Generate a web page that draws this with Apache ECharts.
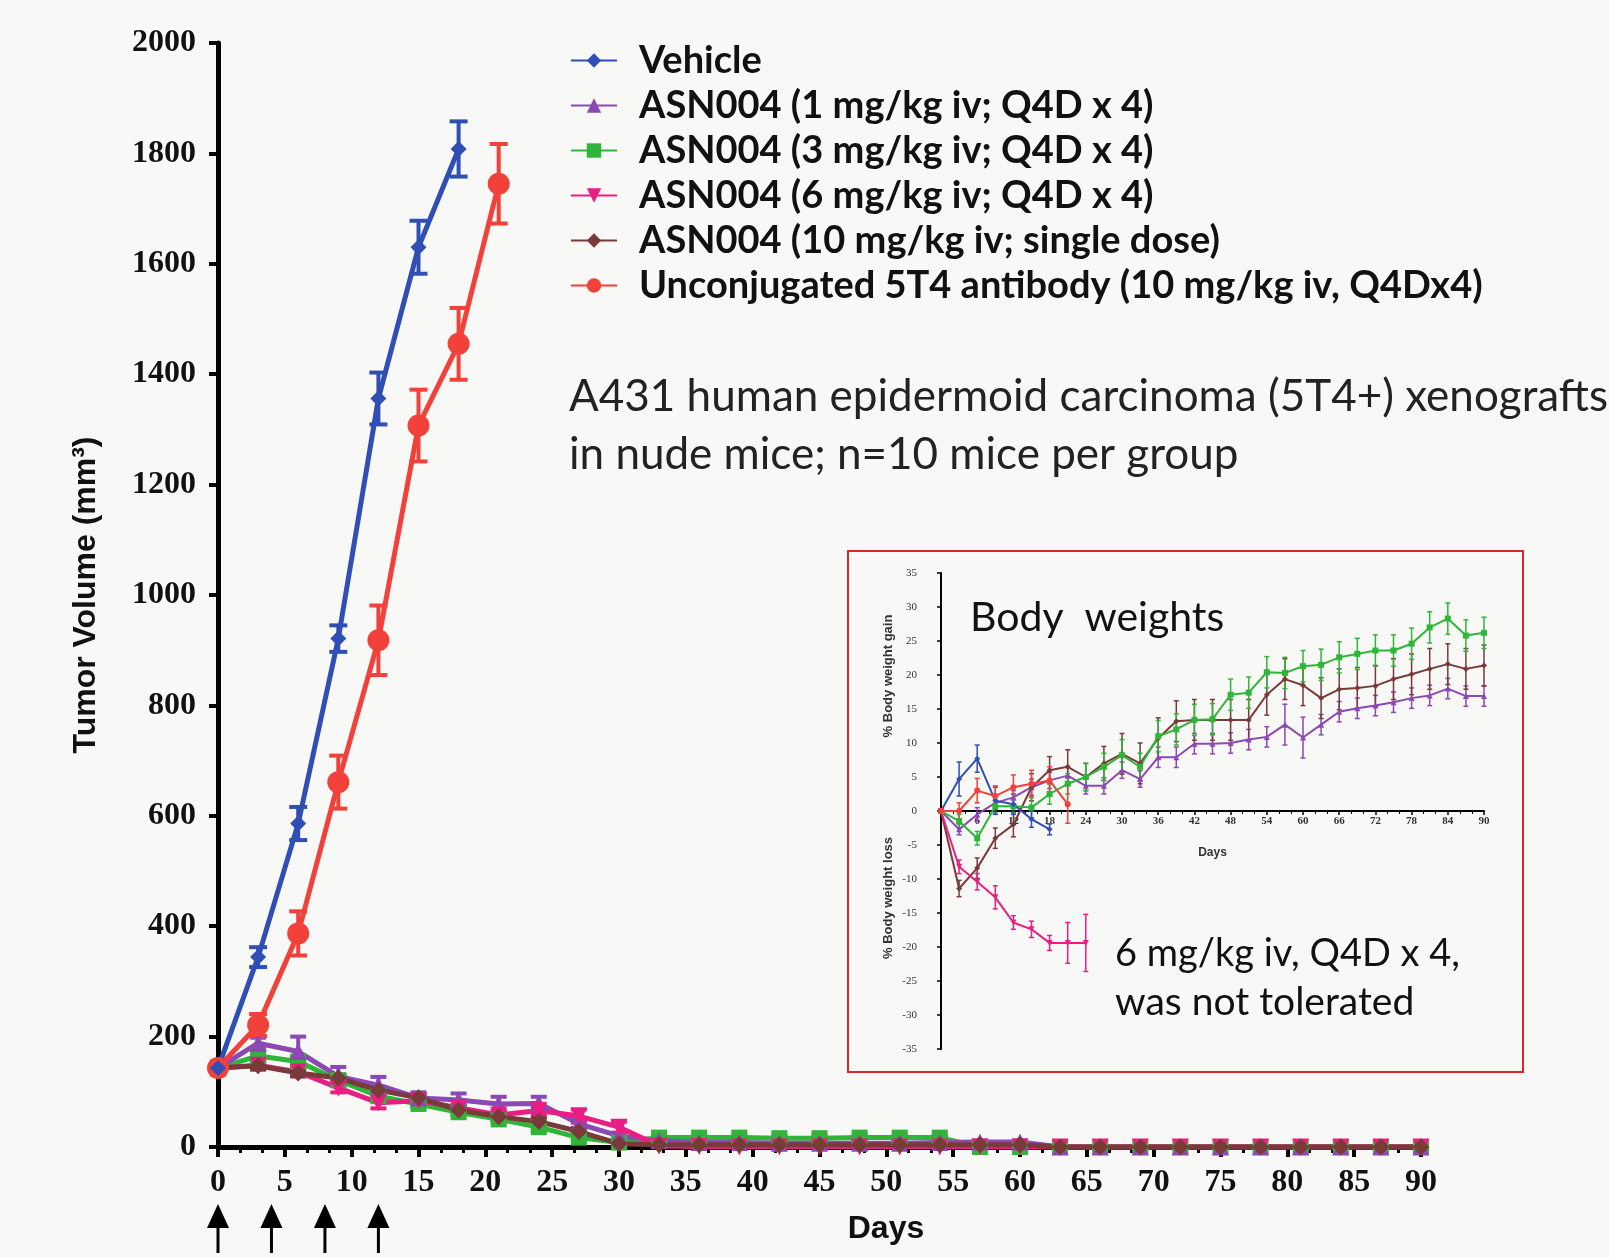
<!DOCTYPE html>
<html><head><meta charset="utf-8">
<script src="https://cdn.jsdelivr.net/npm/echarts@6/dist/echarts.min.js"></script>
<style>html,body{margin:0;padding:0;background:#f8f8f6;}#c{width:1609px;height:1257px;}</style>
</head><body><div id="c"></div>
<script>
// ---------- Data: tumor volume (mm3) ----------
const days = [0,3,6,9,12,15,18,21,24,27,30,33,36,39,42,45,48,51,54,57,60,63,66,69,72,75,78,81,84,87,90];
const doseDays = [0,4,8,12];
const xTicks = [0,5,10,15,20,25,30,35,40,45,50,55,60,65,70,75,80,85,90];
const yTicks = [0,200,400,600,800,1000,1200,1400,1600,1800,2000];

const vehicleTV    = [143,344,586,921,1356,1630,1808];
const vehicleTVErr = [0,18,30,24,47,48,50];
const unconjTV     = [143,221,387,661,918,1307,1455,1745];
const unconjTVErr  = [0,20,40,48,63,65,65,72];
const asn1TV    = [143,188,173,128,112,89,85,78,79,42,20,12,8,8,7,7,7,7,8,9,9,0,0,0,0,0,0,0,0,0,0];
const asn1TVErr = [0,10,27,17,15,10,12,13,12,8,5,4,2,2,2,2,2,2,2,3,3,0,0,0,0,0,0,0,0,0,0];
const asn3TV    = [143,165,155,121,92,78,63,50,36,17,8,17,17,17,16,16,17,17,17,0,0,0,0,0,0,0,0,0,0,0,0];
const asn3TVErr = [0,10,8,8,8,6,6,6,6,6,5,4,4,4,4,4,4,4,4,2,0,0,0,0,0,0,0,0,0,0,0];
const asn6TV    = [143,148,136,107,80,84,71,58,66,56,36,2,1,0,0,0,0,0,0,0,0,0,0,0,0,0,0,0,0,0,0];
const asn6TVErr = [0,8,8,8,10,6,6,8,8,12,10,2,0,0,0,0,0,0,0,0,0,0,0,0,0,0,0,0,0,0,0];
const asn10TV    = [143,147,134,125,103,89,67,55,46,28,6,4,4,4,4,4,4,4,4,4,4,0,0,0,0,0,0,0,0,0,0];
const asn10TVErr = [0,6,6,6,6,6,6,6,6,6,4,2,1,1,1,1,1,1,1,1,1,0,0,0,0,0,0,0,0,0,0];

// ---------- Data: body weight change (%) ----------
const bwVehicle    = [0,4.7,7.7,1.5,1,-1.2,-2.7];
const bwVehicleErr = [0,2.5,2,2,1.5,1.2,0.8];
const bwUnconj     = [0,0,3,2.2,3.5,4,4.5,1];
const bwUnconjErr  = [0,1.2,1.8,1.5,1.8,2,2,2.8];
const bwAsn1    = [0,-2.7,-0.5,1.2,2,3.5,4.5,5.2,3.7,3.7,6,4.7,7.9,7.9,9.9,9.9,10,10.5,10.9,12.7,10.8,12.7,14.6,15.1,15.5,16,16.6,17,18,16.9,16.9];
const bwAsn1Err = [0,0.8,1,1,1,1.2,1.2,1.2,1.2,1.2,1.2,1.2,1.5,1.5,1.5,1.5,1.5,1.5,1.5,3,3,1.5,1.5,1.5,1.5,1.5,1.5,1.5,1.5,1.5,1.5];
const bwAsn3    = [0,-1.5,-4,0.7,0.7,0.5,2.5,4,5,6.5,8.2,6.5,11,12,13.4,13.5,17.1,17.4,20.4,20.3,21.3,21.5,22.6,23.1,23.6,23.6,24.6,27,28.3,25.8,26.2];
const bwAsn3Err = [0,1,1,1,1,1.5,1.5,1.5,2,2,2.3,2,2.3,2.3,2.3,2.3,2.3,2.3,2.3,2.3,2.3,2.3,2.3,2.3,2.3,2.3,2.3,2.3,2.3,2.3,2.3];
const bwAsn6    = [0,-8.2,-10.4,-12.7,-16.4,-17.4,-19.4,-19.4,-19.4];
const bwAsn6Err = [0,1,1.2,1.7,1,1.2,1.1,3,4.2];
const bwAsn10    = [0,-11.4,-8.4,-4,-2,3.5,6,6.5,5,7,8.4,7,10.7,13.2,13.4,13.4,13.4,13.4,17.1,19.4,18.5,16.6,17.9,18.1,18.4,19.4,20.1,20.9,21.6,20.9,21.4];
const bwAsn10Err = [0,1.2,1.5,1.5,1.8,2,2,2.5,2,2.5,3,3,3,3,3,3,3,3,3,3,3,3,3,3,3,3,3,3,3,3,3];

const names = ['Vehicle','ASN004 (1 mg/kg iv; Q4D x 4)','ASN004 (3 mg/kg iv; Q4D x 4)','ASN004 (6 mg/kg iv; Q4D x 4)','ASN004 (10 mg/kg iv; single dose)','Unconjugated 5T4 antibody (10 mg/kg iv, Q4Dx4)'];
const colors = {blue:'#2f4fb5', purple:'#8c48b4', green:'#2fb53a', pink:'#ea1e82', brown:'#7a3a3a', red:'#f2413a'};

function pairs(vals){ return vals.map((v,i)=>[days[i], v]); }
function triples(vals, errs){ return vals.map((v,i)=>[days[i], v, errs[i]]); }

function lineSeries(name, vals, color, symbol, size, rot, gi, lw){
  return {type:'line', name:name, xAxisIndex:gi, yAxisIndex:gi, data:pairs(vals),
    symbol:symbol, symbolSize:size, symbolRotate:rot||0, showSymbol:true,
    lineStyle:{color:color, width:lw}, itemStyle:{color:color, borderWidth:0},
    emphasis:{disabled:true}, silent:true, z:3};
}
function errSeries(vals, errs, color, gi, capW, lw, clampZero){
  return {type:'custom', name:'err', xAxisIndex:gi, yAxisIndex:gi, data:triples(vals, errs),
    silent:true, z:3, encode:{x:0, y:1},
    renderItem:function(p, api){
      const x = api.value(0), v = api.value(1), e = api.value(2);
      if (!e) return {type:'group', children:[]};
      let lo = v - e; if (clampZero && lo < 0) lo = 0;
      const t = api.coord([x, v + e]); const b = api.coord([x, lo]);
      const st = {stroke:color, lineWidth:lw};
      const ch = [
        {type:'line', shape:{x1:t[0], y1:t[1], x2:b[0], y2:b[1]}, style:st},
        {type:'line', shape:{x1:t[0]-capW/2, y1:t[1], x2:t[0]+capW/2, y2:t[1]}, style:st}
      ];
      if (!(clampZero && lo === 0)) ch.push({type:'line', shape:{x1:b[0]-capW/2, y1:b[1], x2:b[0]+capW/2, y2:b[1]}, style:st});
      return {type:'group', children:ch};
    }};
}

const series = [
  // main chart (grid 0)
  errSeries(asn3TV, asn3TVErr, colors.green, 0, 16, 4, true),
  lineSeries(names[2], asn3TV, colors.green, 'rect', 16, 0, 0, 5),
  errSeries(asn1TV, asn1TVErr, colors.purple, 0, 16, 4, true),
  lineSeries(names[1], asn1TV, colors.purple, 'triangle', 17, 0, 0, 5),
  errSeries(asn6TV, asn6TVErr, colors.pink, 0, 16, 4, true),
  lineSeries(names[3], asn6TV, colors.pink, 'triangle', 17, 180, 0, 5),
  errSeries(asn10TV, asn10TVErr, colors.brown, 0, 16, 4, true),
  lineSeries(names[4], asn10TV, colors.brown, 'diamond', 17, 0, 0, 5),
  errSeries(unconjTV, unconjTVErr, colors.red, 0, 18, 4, true),
  lineSeries(names[5], unconjTV, colors.red, 'circle', 22, 0, 0, 5),
  errSeries(vehicleTV, vehicleTVErr, colors.blue, 0, 18, 4, true),
  lineSeries(names[0], vehicleTV, colors.blue, 'diamond', 16, 0, 0, 5),
  // dosing arrows
  {type:'custom', name:'dose', xAxisIndex:0, yAxisIndex:0, clip:false, silent:true,
    data: doseDays.map(d=>[d, 0]), encode:{x:0, y:1},
    renderItem:function(p, api){
      const c = api.coord([api.value(0), 0]);
      return {type:'group', children:[
        {type:'polygon', shape:{points:[[c[0], c[1]+57],[c[0]-11, c[1]+81],[c[0]+11, c[1]+81]]}, style:{fill:'#000'}},
        {type:'rect', shape:{x:c[0]-1.5, y:c[1]+78, width:3, height:28}, style:{fill:'#000'}}
      ]};
    }},
  // inset (grid 1)
  errSeries(bwAsn1, bwAsn1Err, colors.purple, 1, 5, 1.5, false),
  lineSeries('bw1', bwAsn1, colors.purple, 'triangle', 6, 0, 1, 2),
  errSeries(bwAsn10, bwAsn10Err, colors.brown, 1, 5, 1.5, false),
  lineSeries('bw10', bwAsn10, colors.brown, 'diamond', 6, 0, 1, 2),
  errSeries(bwAsn3, bwAsn3Err, colors.green, 1, 5, 1.5, false),
  lineSeries('bw3', bwAsn3, colors.green, 'rect', 6, 0, 1, 2),
  errSeries(bwAsn6, bwAsn6Err, colors.pink, 1, 5, 1.5, false),
  lineSeries('bw6', bwAsn6, colors.pink, 'triangle', 6, 180, 1, 2),
  errSeries(bwVehicle, bwVehicleErr, colors.blue, 1, 5, 1.5, false),
  lineSeries('bwV', bwVehicle, colors.blue, 'diamond', 6, 0, 1, 2),
  errSeries(bwUnconj, bwUnconjErr, colors.red, 1, 5, 1.5, false),
  lineSeries('bwU', bwUnconj, colors.red, 'circle', 6, 0, 1, 2)
];

const serifLbl = {fontFamily:'Liberation Serif', fontWeight:'bold', fontSize:32, color:'#111'};
const option = {
  backgroundColor:'#f8f8f6',
  animation:false,
  grid:[
    {left:218, top:43, right:188, bottom:110, outerBoundsMode:'none', containLabel:false},
    {left:941, top:573, right:125, bottom:208, outerBoundsMode:'none', containLabel:false}
  ],
  legend:{
    orient:'vertical', left:565, top:36, itemWidth:46, itemHeight:18, itemGap:6,
    data:names, selectedMode:false,
    textStyle:{fontFamily:'Lato', fontWeight:'bold', fontSize:38, color:'#111', lineHeight:39, padding:[0,0,0,17]}
  },
  xAxis:[
    {gridIndex:0, type:'value', min:0, max:90, interval:5,
      axisLine:{show:true, lineStyle:{color:'#000', width:5}},
      axisTick:{show:true, length:10, lineStyle:{color:'#000', width:4}},
      minorTick:{show:true, splitNumber:3, length:6, lineStyle:{color:'#000', width:3}},
      splitLine:{show:false}, minorSplitLine:{show:false},
      axisLabel:Object.assign({margin:20, formatter:function(v){return xTicks.indexOf(v)>=0? String(v):'';}}, serifLbl),
      name:'Days', nameLocation:'middle', nameGap:66, nameMoveOverlap:false,
      nameTextStyle:{fontFamily:'Liberation Sans', fontWeight:'bold', fontSize:32, color:'#111', padding:[0,0,0,133]}},
    {gridIndex:1, type:'value', min:0, max:90, interval:6, offset:-238,
      axisLine:{show:true, onZero:false, lineStyle:{color:'#000', width:2}},
      axisTick:{show:true, length:4, lineStyle:{color:'#000', width:1.5}},
      minorTick:{show:true, splitNumber:3, length:3, lineStyle:{color:'#000', width:1}},
      splitLine:{show:false},
      axisLabel:{showMinLabel:false, margin:5, fontFamily:'Liberation Serif', fontWeight:'bold', fontSize:11, color:'#333'},
      name:'Days', nameLocation:'middle', nameGap:36, nameMoveOverlap:false,
      nameTextStyle:{fontFamily:'Liberation Sans', fontWeight:'bold', fontSize:12, color:'#333'}}
  ],
  yAxis:[
    {gridIndex:0, type:'value', min:0, max:2000, interval:200,
      axisLine:{show:true, lineStyle:{color:'#000', width:5}},
      axisTick:{show:true, length:9, lineStyle:{color:'#000', width:4}},
      splitLine:{show:false},
      axisLabel:Object.assign({margin:22, formatter:function(v){return yTicks.indexOf(v)>=0? String(v):'';}}, serifLbl),
      name:'Tumor Volume (mm³)', nameLocation:'middle', nameRotate:90, nameGap:116, nameMoveOverlap:false,
      nameTextStyle:{fontFamily:'Liberation Sans', fontWeight:'bold', fontSize:32, color:'#111'}},
    {gridIndex:1, type:'value', min:-35, max:35, interval:5,
      axisLine:{show:true, lineStyle:{color:'#000', width:2}},
      axisTick:{show:true, length:4, lineStyle:{color:'#000', width:1.5}},
      splitLine:{show:false},
      axisLabel:{margin:24, fontFamily:'Liberation Serif', fontSize:11, color:'#333'}}
  ],
  graphic:[
    {type:'rect', shape:{x:848, y:551, width:675, height:521}, style:{fill:'none', stroke:'#d9262b', lineWidth:2}, silent:true},
    {type:'text', x:569, y:397, style:{text:'A431 human epidermoid carcinoma (5T4+) xenografts', font:'44px Lato', fill:'#222', verticalAlign:'middle'}},
    {type:'text', x:569, y:455, style:{text:'in nude mice; n=10 mice per group', font:'44px Lato', fill:'#222', verticalAlign:'middle'}},
    {type:'text', x:970, y:618, style:{text:'Body  weights', font:'41px Lato', fill:'#111', verticalAlign:'middle'}},
    {type:'text', x:1115, y:954, style:{text:'6 mg/kg iv, Q4D x 4,', font:'38px Lato', fill:'#111', verticalAlign:'middle'}},
    {type:'text', x:1115, y:1002, style:{text:'was not tolerated', font:'39px Lato', fill:'#111', verticalAlign:'middle'}},
    {type:'text', x:888, y:676, rotation:Math.PI/2, style:{text:'% Body weight gain', font:'bold 13px "Liberation Sans"', fill:'#333', align:'center', verticalAlign:'middle'}},
    {type:'text', x:888, y:898, rotation:Math.PI/2, style:{text:'% Body weight loss', font:'bold 13px "Liberation Sans"', fill:'#333', align:'center', verticalAlign:'middle'}}
  ],
  series:series
};
const chart = echarts.init(document.getElementById('c'), null, {renderer:'canvas'});
chart.setOption(option);
</script></body></html>
